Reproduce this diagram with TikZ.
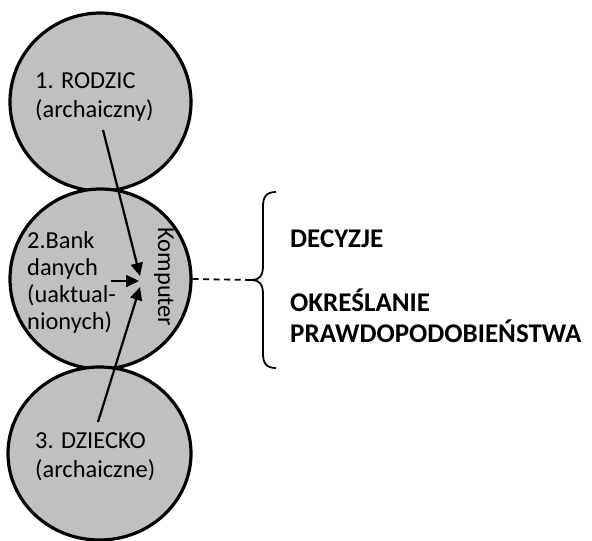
\documentclass[tikz,border=0pt]{standalone}
\usepackage{fontspec}
\setmainfont{Carlito}
\usetikzlibrary{shapes.geometric,arrows.meta}
\definecolor{discfill}{RGB}{192,192,192}
\begin{document}
\begin{tikzpicture}[x=1pt,y=-1pt,
  disc/.style={ellipse,draw=black,fill=discfill,line width=3.2pt,inner sep=0pt},
  lbl/.style={anchor=base west,inner sep=0pt,font=\fontsize{24.4}{29}\selectfont},
  outcome/.style={anchor=base west,inner sep=0pt,font=\fontsize{27}{32}\selectfont\bfseries},
  feed/.style={line width=2.2pt,-{Triangle[length=13pt,width=12pt]}},
  brace/.style={line width=1.8pt},
  link/.style={line width=1.8pt,dash pattern=on 6pt off 4.5pt}]
\useasboundingbox (0,0) rectangle (592,541);

% the three generations
\node[disc,minimum width=181pt,minimum height=178pt] (parent) at (100.5,102) {};
\node[disc,minimum width=181pt,minimum height=180pt] (bank) at (100.5,279) {};
\node[disc,minimum width=183pt,minimum height=173pt] (child) at (99.5,453.5) {};

% circle labels
\node[lbl] (p1) at (35,88) {1. RODZIC};
\node[lbl] (p2) at (35,117) {(archaiczny)};
\node[lbl] (b1) at (27,248) {2.Bank};
\node[lbl] (b2) at (27,275) {danych};
\node[lbl] (b3) at (27,302) {(uaktual-};
\node[lbl] (b4) at (27,329) {nionych)};
\node[lbl] (c1) at (35,448) {3. DZIECKO};
\node[lbl] (c2) at (35,477) {(archaiczne)};
\node[inner sep=0pt,rotate=-90,font=\fontsize{24.4}{29}\selectfont] (comp) at (164,277) {Komputer};

% inputs converging on the computer
\coordinate (fromparent) at (103,130);
\coordinate (frombank) at (111,281);
\coordinate (fromchild) at (98,422);
\coordinate (tipparent) at (140,276);
\coordinate (tipbank) at (139,281);
\coordinate (tipchild) at (140,287);
\draw[feed] (fromparent) -- (tipparent);
\draw[feed] (frombank) -- (tipbank);
\draw[feed] (fromchild) -- (tipchild);

% brace with the outcomes
\coordinate (bracetip) at (252,280);
\draw[link] (bank.east) -- (bracetip);
\draw[brace] (276,192) .. controls (266,192) and (263,197) .. (263,207)
  -- (263,266) .. controls (263,276) and (259,280) .. (bracetip)
  .. controls (259,280) and (263,284) .. (263,294)
  -- (263,353) .. controls (263,363) and (266,368) .. (276,368);

\node[outcome] (dec) at (290,247) {DECYZJE};
\node[outcome] (ok1) at (290,311) {OKREŚLANIE};
\node[outcome] (ok2) at (290,342) {PRAWDOPODOBIEŃSTWA};
\end{tikzpicture}
\end{document}
